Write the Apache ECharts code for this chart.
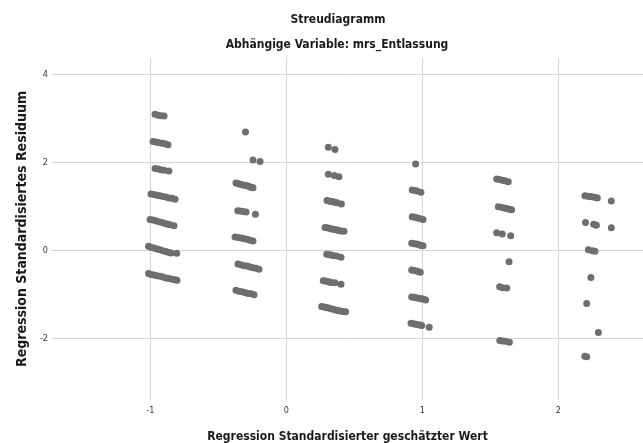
<!DOCTYPE html>
<html>
<head>
<meta charset="utf-8">
<script src="https://cdn.jsdelivr.net/npm/echarts@6/dist/echarts.min.js"></script>
<style>html,body{margin:0;padding:0;background:#fff}#c{width:643px;height:443px}</style>
</head>
<body>
<div id="c"></div>
<script>
// Data: [predicted (standardised), residual (standardised)]
const groupA = [
  [-0.965,3.10],[-0.943,3.08],[-0.921,3.07],[-0.899,3.06],
  [-0.980,2.48],[-0.958,2.47],[-0.943,2.46],[-0.914,2.44],[-0.892,2.43],[-0.870,2.41],
  [-0.965,1.87],[-0.943,1.86],[-0.921,1.84],[-0.899,1.83],[-0.863,1.81],
  [-0.995,1.29],[-0.973,1.28],[-0.951,1.26],[-0.929,1.25],[-0.907,1.23],[-0.885,1.22],[-0.863,1.20],[-0.840,1.19],[-0.818,1.17],
  [-1.002,0.71],[-0.980,0.70],[-0.958,0.68],[-0.936,0.66],[-0.914,0.64],[-0.892,0.62],[-0.870,0.60],[-0.855,0.59],[-0.826,0.57],
  [-1.013,0.10],[-0.995,0.08],[-0.973,0.06],[-0.951,0.04],[-0.929,0.02],[-0.907,0.00],[-0.885,-0.02],[-0.863,-0.04],[-0.848,-0.05],[-0.806,-0.06],
  [-1.013,-0.52],[-0.995,-0.54],[-0.973,-0.55],[-0.951,-0.57],[-0.929,-0.58],[-0.907,-0.60],[-0.885,-0.62],[-0.863,-0.63],[-0.840,-0.65],[-0.818,-0.66],[-0.804,-0.67]
];
const groupB = [
  [-0.300,2.70],
  [-0.245,2.06],[-0.193,2.03],
  [-0.370,1.54],[-0.355,1.53],[-0.340,1.51],[-0.326,1.50],[-0.311,1.49],[-0.296,1.48],[-0.281,1.47],[-0.267,1.45],[-0.252,1.44],[-0.245,1.43],
  [-0.357,0.91],[-0.340,0.90],[-0.318,0.89],[-0.296,0.88],[-0.227,0.83],
  [-0.377,0.31],[-0.355,0.30],[-0.333,0.29],[-0.311,0.27],[-0.289,0.26],[-0.267,0.24],[-0.245,0.22],
  [-0.355,-0.30],[-0.333,-0.32],[-0.311,-0.34],[-0.289,-0.35],[-0.267,-0.37],[-0.245,-0.39],[-0.223,-0.40],[-0.201,-0.42],
  [-0.370,-0.90],[-0.348,-0.92],[-0.326,-0.93],[-0.304,-0.95],[-0.281,-0.97],[-0.259,-0.98],[-0.237,-1.00]
];
const groupC = [
  [0.309,2.35],[0.358,2.30],
  [0.309,1.74],[0.353,1.71],[0.387,1.68],
  [0.299,1.14],[0.314,1.13],[0.329,1.12],[0.344,1.11],[0.358,1.10],[0.373,1.09],[0.405,1.06],
  [0.285,0.53],[0.299,0.52],[0.314,0.51],[0.329,0.50],[0.344,0.49],[0.358,0.48],[0.373,0.47],[0.387,0.46],[0.402,0.45],[0.424,0.44],
  [0.297,-0.08],[0.314,-0.09],[0.329,-0.10],[0.344,-0.11],[0.371,-0.12],[0.402,-0.15],
  [0.272,-0.68],[0.287,-0.69],[0.302,-0.70],[0.317,-0.71],[0.332,-0.72],[0.358,-0.73],[0.402,-0.76],
  [0.260,-1.27],[0.277,-1.28],[0.294,-1.29],[0.311,-1.30],[0.329,-1.32],[0.346,-1.33],[0.363,-1.35],[0.380,-1.36],[0.397,-1.37],[0.414,-1.38],[0.436,-1.39]
];
const groupD = [
  [0.951,1.97],
  [0.926,1.38],[0.943,1.37],[0.961,1.36],[0.990,1.33],
  [0.926,0.77],[0.943,0.76],[0.961,0.75],[0.980,0.73],[1.005,0.71],
  [0.922,0.17],[0.939,0.16],[0.956,0.15],[0.973,0.14],[0.990,0.12],[1.005,0.11],
  [0.922,-0.44],[0.939,-0.45],[0.956,-0.46],[0.970,-0.47],[0.985,-0.49],
  [0.922,-1.05],[0.939,-1.06],[0.956,-1.07],[0.973,-1.08],[0.990,-1.09],[1.005,-1.10],[1.025,-1.12],
  [0.917,-1.65],[0.934,-1.66],[0.951,-1.67],[0.968,-1.68],[0.985,-1.69],[0.996,-1.70],[1.051,-1.74]
];
const groupE = [
  [1.547,1.63],[1.567,1.62],[1.588,1.60],[1.608,1.59],[1.632,1.57],
  [1.559,1.00],[1.580,0.99],[1.600,0.97],[1.620,0.96],[1.640,0.94],[1.657,0.93],
  [1.547,0.41],[1.588,0.38],[1.650,0.34],
  [1.638,-0.25],
  [1.569,-0.82],[1.590,-0.84],[1.621,-0.85],
  [1.570,-2.04],[1.590,-2.05],[1.612,-2.06],[1.640,-2.08]
];
const groupF = [
  [2.196,1.25],[2.215,1.24],[2.235,1.23],[2.255,1.22],[2.275,1.21],[2.287,1.20],
  [2.390,1.13],
  [2.200,0.64],[2.260,0.60],[2.280,0.58],
  [2.390,0.52],
  [2.221,0.02],[2.250,0.00],[2.270,-0.01],
  [2.240,-0.61],
  [2.209,-1.20],
  [2.295,-1.86],
  [2.195,-2.40],[2.209,-2.41]
];
const xTicks = [-1, 0, 1, 2];
const yTicks = [-2, 0, 2, 4];
const xRange = [-1.723, 2.623];
const yRange = [-3.393, 4.38];

const FONT = "'Liberation Sans Narrow', 'DejaVu Sans Condensed', sans-serif";
const allPoints = [].concat(groupA, groupB, groupC, groupD, groupE, groupF);

const chart = echarts.init(document.getElementById('c'), null, {renderer: 'canvas'});
chart.setOption({
  backgroundColor: '#ffffff',
  animation: false,
  title: [
    {text: 'Streudiagramm', left: 333, top: 9, textAlign: 'center',
     textStyle: {fontFamily: FONT, fontWeight: 'bold', fontSize: 12, color: '#1a1a1a'}},
    {text: 'Abhängige Variable: mrs_Entlassung', left: 332, top: 34, textAlign: 'center',
     textStyle: {fontFamily: FONT, fontWeight: 'bold', fontSize: 12, color: '#1a1a1a'}}
  ],
  grid: {left: 52, right: 0, top: 58, bottom: 43, containLabel: false, outerBoundsMode: 'none'},
  xAxis: {
    type: 'value', min: xRange[0], max: xRange[1],
    name: 'Regression Standardisierter geschätzter Wert',
    nameLocation: 'middle', nameGap: 31,
    nameTextStyle: {fontFamily: FONT, fontWeight: 'bold', fontSize: 12, color: '#1a1a1a'},
    axisLine: {show: true, lineStyle: {color: '#a0a0a0', width: 1}},
    axisTick: {show: false},
    splitLine: {show: false},
    axisLabel: {customValues: xTicks, margin: 6, fontFamily: FONT, fontSize: 9, color: '#333'}
  },
  yAxis: {
    type: 'value', min: yRange[0], max: yRange[1],
    name: 'Regression Standardisiertes Residuum',
    nameLocation: 'middle', nameGap: 23, nameRotate: 90,
    nameTextStyle: {fontFamily: FONT, fontWeight: 'bold', fontSize: 14, color: '#1a1a1a'},
    axisLine: {show: true, lineStyle: {color: '#a0a0a0', width: 1}},
    axisTick: {show: false},
    splitLine: {show: false},
    axisLabel: {customValues: yTicks, margin: 4, fontFamily: FONT, fontSize: 9, color: '#333'}
  },
  series: [
    {
      type: 'line', data: [], silent: true,
      markLine: {
        silent: true, symbol: 'none', z: 1, animation: false,
        label: {show: false},
        lineStyle: {color: '#d4d4d4', width: 1, type: 'solid'},
        data: xTicks.map(v => ({xAxis: v})).concat(yTicks.map(v => ({yAxis: v})))
      }
    },
    {
      type: 'scatter', data: allPoints, symbolSize: 7, z: 3,
      itemStyle: {color: '#6e6e6e', opacity: 1}
    }
  ]
});
</script>
</body>
</html>
